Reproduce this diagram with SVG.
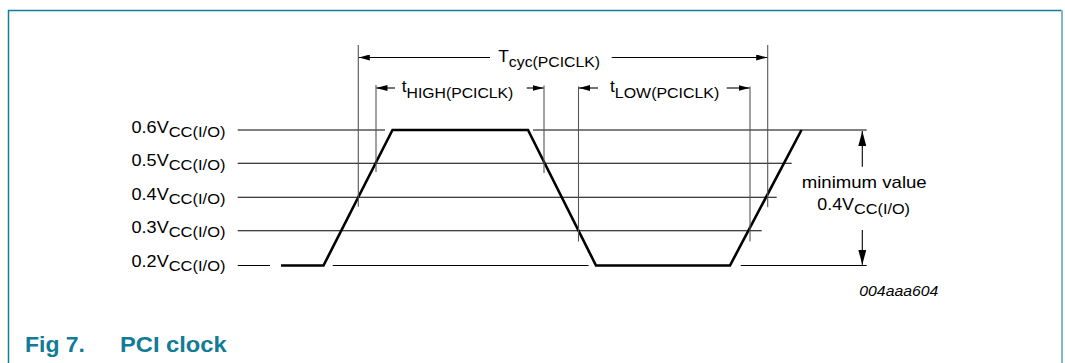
<svg xmlns="http://www.w3.org/2000/svg" width="1065" height="363" viewBox="0 0 1065 363">
<style>
text{font-family:"Liberation Sans",Arial,Helvetica,sans-serif;fill:#000}
.lbl{font-size:17px}
.sub{font-size:15.5px}
.thin{stroke:#000;stroke-width:1.1;fill:none}
.dim{stroke:#555;stroke-width:1.1;fill:none}
.arr{stroke:#000;stroke-width:1.1;fill:none;marker-end:url(#ah)}
.arr2{stroke:#000;stroke-width:1.1;fill:none;marker-end:url(#ah2)}
.wave{stroke:#000;stroke-width:2.6;fill:none;stroke-linejoin:miter}
.cap{font-size:22px;font-weight:bold;fill:#127b96}
</style>
<defs>
<marker id="ah" markerUnits="userSpaceOnUse" markerWidth="11" markerHeight="6" refX="11" refY="3" orient="auto">
<path d="M0,0 L11,3 L0,6 z" fill="#000"/>
</marker>
<marker id="ah2" markerUnits="userSpaceOnUse" markerWidth="15" markerHeight="8" refX="15" refY="4" orient="auto">
<path d="M0,0 L15,4 L0,8 z" fill="#000"/>
</marker>
</defs>
<rect width="1065" height="363" fill="#fff"/>
<g id="frame">
<line x1="8" y1="10.5" x2="1062" y2="10.5" stroke="#127f98" stroke-width="1.5"/>
<line x1="8.5" y1="10" x2="8.5" y2="363" stroke="#127f98" stroke-width="1.5"/>
<line x1="1062" y1="10" x2="1062" y2="363" stroke="#7dbac6" stroke-width="2"/>
</g>
<g id="levels">
<line class="thin" x1="237.7" y1="130" x2="385" y2="130"/>
<line class="thin" x1="533" y1="130" x2="866.7" y2="130"/>
<line class="thin" x1="237.7" y1="163.3" x2="791.7" y2="163.3"/>
<line class="thin" x1="237.7" y1="197.3" x2="776.7" y2="197.3"/>
<line class="thin" x1="237.7" y1="230.7" x2="761.7" y2="230.7"/>
<line class="thin" x1="237.7" y1="265.5" x2="270" y2="265.5"/>
<line class="thin" x1="332.7" y1="265.5" x2="588.5" y2="265.5"/>
<line class="thin" x1="740.7" y1="265.5" x2="866.7" y2="265.5"/>
</g>
<g id="labels">
<text class="lbl" x="131.5" y="132.5" textLength="94" lengthAdjust="spacingAndGlyphs">0.6V<tspan class="sub" dy="4">CC(I/O)</tspan></text>
<text class="lbl" x="131.5" y="166" textLength="94" lengthAdjust="spacingAndGlyphs">0.5V<tspan class="sub" dy="4">CC(I/O)</tspan></text>
<text class="lbl" x="131.5" y="200" textLength="94" lengthAdjust="spacingAndGlyphs">0.4V<tspan class="sub" dy="4">CC(I/O)</tspan></text>
<text class="lbl" x="131.5" y="233.3" textLength="94" lengthAdjust="spacingAndGlyphs">0.3V<tspan class="sub" dy="4">CC(I/O)</tspan></text>
<text class="lbl" x="131.5" y="267" textLength="94" lengthAdjust="spacingAndGlyphs">0.2V<tspan class="sub" dy="4">CC(I/O)</tspan></text>
</g>
<g id="waveform">
<path class="wave" d="M281,265.5 L323.5,265.5 L392.5,130 L528,130 L596,265.5 L730,265.5 L801.5,130"/>
</g>
<g id="dimension-lines">
<line class="dim" x1="358.3" y1="45" x2="358.3" y2="206.7"/>
<line class="dim" x1="376" y1="85" x2="376" y2="172"/>
<line class="dim" x1="544" y1="85.5" x2="544" y2="173"/>
<line class="dim" x1="578.5" y1="86.5" x2="578.5" y2="241.5"/>
<line class="dim" x1="750" y1="86.5" x2="750" y2="241.5"/>
<line class="dim" x1="767.7" y1="45" x2="767.7" y2="207.3"/>
</g>
<g id="connectors">
<line class="arr" x1="490" y1="57.5" x2="358.8" y2="57.5"/>
<line class="arr" x1="611.7" y1="57.5" x2="767.2" y2="57.5"/>
<line class="arr" x1="395" y1="88" x2="376.5" y2="88"/>
<line class="arr" x1="526.7" y1="88" x2="543.5" y2="88"/>
<line class="arr" x1="598" y1="88" x2="579" y2="88"/>
<line class="arr" x1="726.7" y1="88" x2="749.5" y2="88"/>
<line class="arr2" x1="862.3" y1="166.7" x2="862.3" y2="131"/>
<line class="arr2" x1="862.3" y1="230" x2="862.3" y2="264.8"/>
</g>
<g id="timing-labels">
<text class="lbl" x="498.3" y="61.5" textLength="101.7" lengthAdjust="spacingAndGlyphs">T<tspan class="sub" dy="5">cyc(PCICLK)</tspan></text>
<text class="lbl" x="401.7" y="92.3" textLength="111.6" lengthAdjust="spacingAndGlyphs">t<tspan class="sub" dy="6">HIGH(PCICLK)</tspan></text>
<text class="lbl" x="610" y="92.3" textLength="109.3" lengthAdjust="spacingAndGlyphs">t<tspan class="sub" dy="6">LOW(PCICLK)</tspan></text>
</g>
<g id="min-value">
<text class="lbl" x="801.7" y="188.3" textLength="125" lengthAdjust="spacingAndGlyphs">minimum value</text>
<text class="lbl" x="817.3" y="209.5" textLength="92.7" lengthAdjust="spacingAndGlyphs">0.4V<tspan class="sub" dy="4">CC(I/O)</tspan></text>
</g>
<g id="caption">
<text x="859.3" y="295.7" font-size="14.5" font-style="italic" textLength="79" lengthAdjust="spacingAndGlyphs">004aaa604</text>
<text class="cap" x="25" y="352" textLength="60" lengthAdjust="spacingAndGlyphs">Fig 7.</text>
<text class="cap" x="120" y="352" textLength="106.7" lengthAdjust="spacingAndGlyphs">PCI clock</text>
</g>
</svg>
